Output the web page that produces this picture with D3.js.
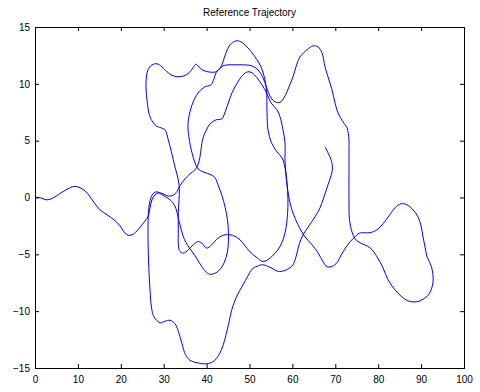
<!DOCTYPE html>
<html>
<head>
<meta charset="utf-8">
<script src="https://cdn.jsdelivr.net/npm/d3@7/dist/d3.min.js"></script>
<style>
  html, body { margin: 0; padding: 0; background: #fff; }
  svg text { font-family: "Liberation Sans", Arial, Helvetica, sans-serif; }
</style>
</head>
<body>
<svg id="chart" width="480" height="392"></svg>
<script>
// ---- data ----
const chartTitle = "Reference Trajectory";
const xTicks = [0, 10, 20, 30, 40, 50, 60, 70, 80, 90, 100];
const yTicks = [-15, -10, -5, 0, 5, 10, 15];
const xDomain = [0, 100];
const yDomain = [-15, 15];

const trajX = [
  0,0.70,1.63,2.56,3.50,4.66,6.29,7.69,9.09,10.26,11.66,12.82,13.99,15.15,16.78,18.41,19.81,20.75,21.68,22.61,23.78,24.94,25.87,26.34,
  26.81,27.27,27.97,28.90,29.84,30.77,31.93,32.87,33.80,34.97,36.13,37.30,38.00,38.46,38.69,39.16,39.86,40.79,42.19,43.59,44.06,44.76,45.92,47.32,48.48,49.65,50.58,51.75,52.91,54.08,55.01,56.41,57.11,57.81,58.28,58.28,58.74,58.97,
  58.86,58.51,57.81,56.64,55.24,53.85,52.91,51.75,50.12,48.95,47.79,46.62,45.45,44.29,42.66,41.19,40.02,38.86,38.07,36.90,35.73,34.57,33.80,33.45,33.40,33.40,33.57,33.64,33.45,32.63,31.86,31.07,30.30,29.37,28.21,26.81,26.11,25.87,26.34,27.27,28.44,29.60,30.77,31.93,33.33,34.73,35.90,36.83,37.53,38.23,39.16,40.79,42.19,43.12,43.82,44.52,45.45,46.85,48.02,49.42,50.58,51.75,52.68,53.38,53.96,54.08,54.31,55.13,56.41,57.58,58.28,58.74,59.44,
  60.14,61.31,62.94,64.57,65.97,67.13,68.07,69.00,70.16,71.79,73.43,74.59,75.52,76.92,78.09,79.72,81.12,82.52,83.92,85.31,86.71,88.11,89.28,89.98,90.44,90.91,91.38,92.42,92.77,91.72,90.44,89.28,87.41,85.78,83.92,82.28,81.12,79.72,78.09,75.76,74.59,73.89,73.31,73.19,73.19,73.19,73.19,72.73,71.79,70.63,69.93,69.23,68.30,67.60,66.90,65.97,64.80,63.40,61.77,60.84,60.14,59.21,58.28,57.11,55.94,55.01,54.08,53.15,51.98,50.58,48.72,46.85,44.99,43.82,42.89,42.19,41.72,41.03,39.63,38.23,37.06,36.13,35.66,35.90,36.60,37.30,38.00,39.39,41.03,41.96,42.66,43.59,44.29,44.87,45.10,44.99,44.52,43.59,42.19,40.79,39.63,38.46,37.30,36.13,35.20,34.50,33.92,33.33,32.87,32.17,31.00,29.60,28.44,27.51,26.81,26.46,26.34,26.46,26.81,27.16,27.74,29.14,30.30,31.47,32.63,33.45,34.27,35.08,36.13,37.76,39.98,41.49,42.89,43.82,44.52,45.10,45.80,46.97,48.48,49.65,50.58,51.75,53.15,54.78,56.64,58.04,59.44,60.14,60.84,61.54,62.47,63.87,65.27,66.43,67.37,68.30,69.00,69.35,69.00,68.30,67.60
];
const trajY = [
  0,0.02,-0.07,-0.20,-0.16,0.06,0.46,0.77,0.97,0.90,0.59,0.06,-0.55,-1.08,-1.52,-1.96,-2.49,-3.02,-3.32,-3.28,-2.93,-2.40,-1.96,-1.70,
  -0.91,-0.20,0.24,0.41,0.33,0.15,0.15,0.41,1.03,1.64,2.08,2.44,2.88,3.58,4.20,5.25,5.87,6.48,6.83,6.92,7.27,7.98,9.21,10.18,10.79,11.06,10.97,10.53,9.91,9.12,8.33,7.71,7.10,5.95,4.81,3.05,1.29,-0.20,
  -1.52,-2.66,-3.72,-4.60,-5.17,-5.57,-5.61,-5.30,-4.78,-4.25,-3.72,-3.41,-3.28,-3.28,-3.57,-4.16,-4.45,-4.01,-3.87,-4.16,-4.60,-4.89,-4.75,-4.31,-2.84,-1.35,-0.20,0.68,1.47,2.70,3.91,5.07,5.95,6.13,6.31,7.10,8.59,10.09,11.23,11.67,11.76,11.50,11.06,10.75,10.62,10.70,10.97,11.41,11.73,11.50,11.19,11.03,11.06,11.36,11.93,12.73,13.43,13.78,13.69,13.25,12.73,12.11,11.50,10.70,9.47,7.45,5.95,4.81,4.02,3.49,2.61,1.12,-0.46,
  -1.35,-2.40,-3.46,-4.16,-4.86,-5.65,-6.09,-6.09,-5.83,-4.78,-3.90,-3.46,-3.15,-3.10,-3.10,-2.84,-2.31,-1.61,-0.91,-0.55,-0.64,-1.08,-1.70,-2.49,-3.46,-4.34,-5.22,-6.09,-7.50,-8.56,-8.95,-9.15,-9.15,-8.82,-8.12,-7.24,-6.18,-5.22,-4.42,-3.98,-3.63,-3.02,-1.96,-0.20,1.89,4.20,5.08,6.13,6.66,7.45,8.33,9.47,10.62,11.50,12.73,13.25,13.34,12.99,12.37,11.50,10.62,9.74,8.94,8.37,8.42,8.77,9.56,10.53,11.23,11.58,11.67,11.67,11.67,11.58,11.32,10.97,10.44,9.91,9.74,9.30,8.59,7.54,6.39,5.25,3.93,3.05,2.52,2.22,2.00,1.73,1.12,0.15,-0.82,-1.96,-3.28,-4.42,-5.30,-6.10,-6.62,-6.75,-6.45,-5.83,-5.13,-4.51,-3.98,-3.37,-2.58,-1.70,-0.99,-0.47,-0.07,0.24,0.50,0.33,-0.29,-1.26,-2.84,-5.48,-8.12,-9.70,-10.49,-11.02,-10.89,-10.80,-11.11,-11.81,-12.87,-13.83,-14.32,-14.54,-14.63,-14.45,-13.83,-13.04,-12.08,-11.20,-9.96,-8.73,-7.68,-6.89,-6.31,-6.05,-5.92,-6.14,-6.49,-6.45,-6.18,-5.92,-5.22,-4.16,-3.28,-2.49,-1.70,-0.91,0.06,1.12,1.91,2.61,3.32,3.93,4.46
];

// ---- layout ----
const plotLeft = 35, plotRight = 464, plotTop = 27, plotBottom = 368;
const svg = d3.select("#chart");
const x = d3.scaleLinear().domain(xDomain).range([plotLeft, plotRight]);
const y = d3.scaleLinear().domain(yDomain).range([plotBottom, plotTop]);

const points = trajX.map((v, i) => [v, trajY[i]]);

// trajectory
svg.append("path")
  .datum(points)
  .attr("fill", "none")
  .attr("stroke", "#0000ff")
  .attr("stroke-width", 1)
  .attr("stroke-linejoin", "round")
  .attr("d", d3.line().x(d => x(d[0])).y(d => y(d[1])).curve(d3.curveCatmullRom.alpha(0.5)));

// axes (MATLAB-style box with inward ticks)
const tickLen = 4;
const gB = svg.append("g").attr("transform", `translate(0,${plotBottom})`)
  .call(d3.axisBottom(x).tickValues(xTicks).tickSize(-tickLen).tickPadding(8));
const gT = svg.append("g").attr("transform", `translate(0,${plotTop})`)
  .call(d3.axisTop(x).tickValues(xTicks).tickSize(-tickLen).tickFormat(""));
const gL = svg.append("g").attr("transform", `translate(${plotLeft},0)`)
  .call(d3.axisLeft(y).tickValues(yTicks).tickSize(-tickLen).tickPadding(5));
const gR = svg.append("g").attr("transform", `translate(${plotRight},0)`)
  .call(d3.axisRight(y).tickValues(yTicks).tickSize(-tickLen).tickFormat(""));

[gB, gT, gL, gR].forEach(g => {
  g.select(".domain").remove();
  g.selectAll("line").attr("stroke", "#000");
  g.selectAll("text").attr("fill", "#000").style("font-size", "10px");
});

svg.append("rect")
  .attr("x", plotLeft).attr("y", plotTop)
  .attr("width", plotRight - plotLeft).attr("height", plotBottom - plotTop)
  .attr("fill", "none").attr("stroke", "#000").attr("stroke-width", 1)
  .attr("shape-rendering", "crispEdges");

// title
svg.append("text")
  .attr("x", (plotLeft + plotRight) / 2)
  .attr("y", 16)
  .attr("text-anchor", "middle")
  .style("font-size", "10px")
  .attr("fill", "#000")
  .text(chartTitle);
</script>
</body>
</html>
